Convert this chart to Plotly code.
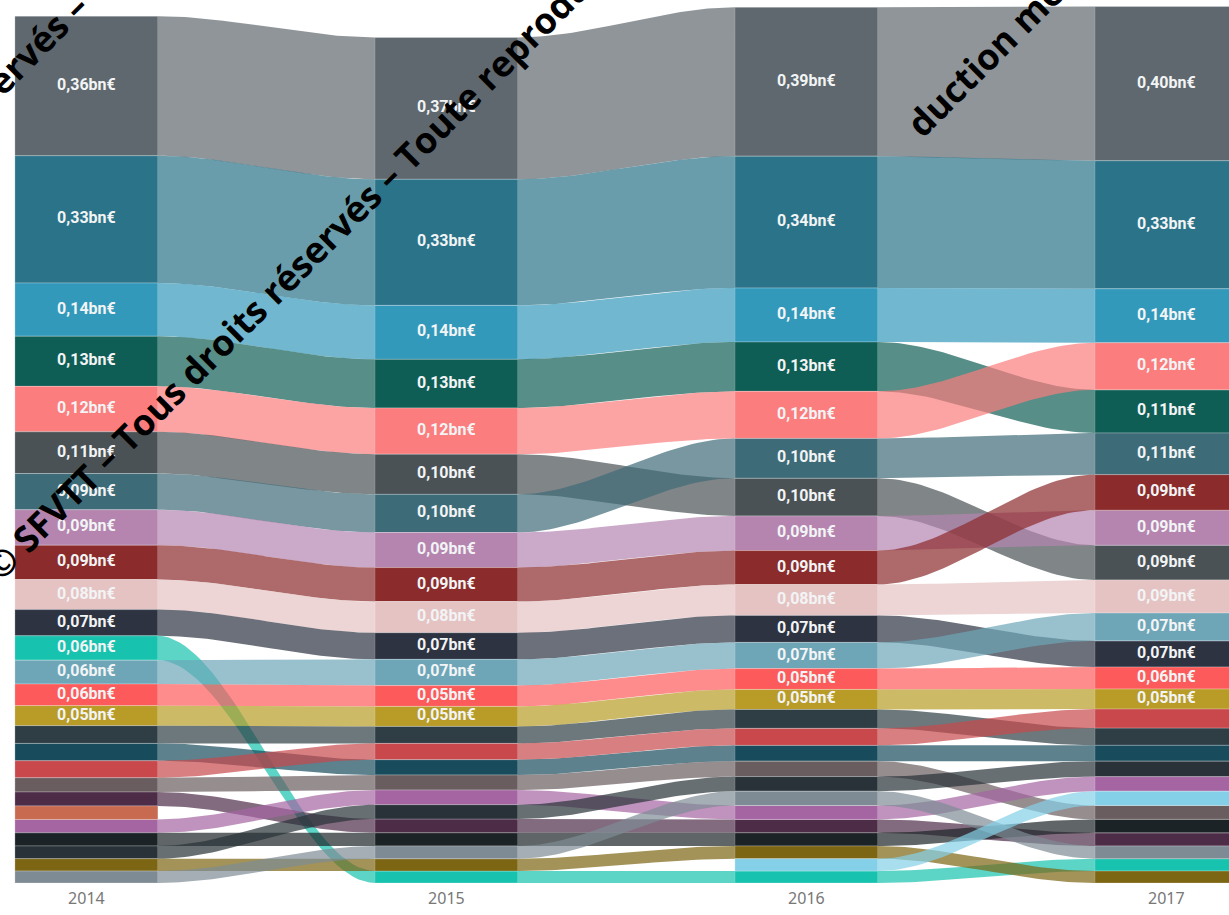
import numpy as np
import plotly.graph_objects as go

years = ['2014', '2015', '2016', '2017']
series = ['A', 'B', 'C', 'D', 'E', 'F', 'G', 'H', 'I', 'J', 'K', 'L', 'M', 'N',
          'O', 'P', 'Q', 'R', 'S', 'T', 'U', 'V', 'W', 'X', 'Y', 'Z', 'AA']
colors = ['#5f686e', '#2a7389', '#3399bb', '#0f5e55', '#fb7d7d', '#4a5255',
          '#3e6b78', '#b585b0', '#8b2b2b', '#e6c3c3', '#2e3342', '#17c2ae',
          '#6ea6b8', '#fd5b5b', '#b89c27', '#2f3e45', '#184c5d', '#c8484c',
          '#6a5d5f', '#4d2c48', '#a565a3', '#c86a50', '#1c2327', '#283238',
          '#7c6513', '#7e8b94', '#84d0e8']

# values in bn€, None = no value that year
v2014 = [.362, .330, .138, .130, .118, .108, .094, .092, .089, .078, .068, .063,
         .062, .056, .052, .046, .045, .044, .037, .036, .035, .035, .034, .033,
         .032, .031, None]
v2015 = [.368, .327, .140, .126, .120, .104, .099, .091, .088, .081, .069, .031,
         .068, .054, .052, .044, .040, .042, .039, .036, .038, None, .034, .037,
         .032, .033, None]
v2016 = [.386, .342, .140, .128, .122, .098, .103, .090, .088, .080, .070, .031,
         .068, .054, .052, .049, .041, .044, .040, .035, .036, None, .034, .038,
         .033, .037, .032]
v2017 = [.400, .332, .140, .112, .122, .090, .108, .091, .092, .086, .068, .032,
         .072, .057, .052, .045, .041, .049, .036, .034, .038, None, .035, .040,
         .031, .033, .037]

values = [v2014, v2015, v2016, v2017]
hw = 0.1986          # half bar width (x units, 1 = one year step)
label_min = 0.05


def rgba(hexc, a):
    h = hexc.lstrip('#')
    return 'rgba(%d,%d,%d,%s)' % (int(h[0:2], 16), int(h[2:4], 16), int(h[4:6], 16), a)


# stack each year, largest on top
bottoms = []
for vals in values:
    idx = [i for i in range(len(series)) if vals[i] is not None]
    idx.sort(key=lambda i: vals[i])   # smallest first -> at the bottom
    b = {}
    y = 0.0
    for i in idx:
        b[i] = y
        y += vals[i]
    bottoms.append(b)

fig = go.Figure()

# ribbons
t = np.linspace(0, 1, 41)
s = t * t * (3 - 2 * t)
for k in range(len(years) - 1):
    x = k + hw + (1 - 2 * hw) * t
    for i in range(len(series)):
        if i not in bottoms[k] or i not in bottoms[k + 1]:
            continue
        b0, b1 = bottoms[k][i], bottoms[k + 1][i]
        t0, t1 = b0 + values[k][i], b1 + values[k + 1][i]
        top = t0 + (t1 - t0) * s
        bot = b0 + (b1 - b0) * s
        fig.add_trace(go.Scatter(
            x=np.concatenate([x, x[::-1]]), y=np.concatenate([top, bot[::-1]]),
            fill='toself', fillcolor=rgba(colors[i], 0.7), mode='lines',
            line=dict(width=0), hoverinfo='skip', showlegend=False))

# columns
for i in range(len(series)):
    xs, ys, bs = [], [], []
    for k in range(len(years)):
        if i in bottoms[k]:
            xs.append(k)
            ys.append(values[k][i])
            bs.append(bottoms[k][i])
    fig.add_trace(go.Bar(
        x=xs, y=ys, base=bs, width=2 * hw, marker_color=colors[i],
        marker_line=dict(width=0.7, color='rgba(255,255,255,0.35)'),
        name=series[i], showlegend=False))

# data labels
lx, ly, lt = [], [], []
for k in range(len(years)):
    for i, b in bottoms[k].items():
        v = values[k][i]
        if v >= label_min:
            lx.append(k)
            ly.append(b + v / 2)
            lt.append(('%.2f' % v).replace('.', ',') + 'bn€')
fig.add_trace(go.Scatter(
    x=lx, y=ly, text=lt, mode='text', hoverinfo='skip', showlegend=False,
    textfont=dict(family='Roboto', size=16, color='#f2f4f5', weight='bold')))

# watermark (anchored at the start of each line)
wm = '© SFVTT – Tous droits réservés – Toute reproduction'
for x0, y0, txt in [(-0.2783, 0.5210, wm), (-0.0236, 0.3284, wm),
                    (0.7266, 0.8301, 'duction même partielle interdite')]:
    fig.add_annotation(x=x0, y=y0, xref='paper', yref='paper', text=txt,
                       xanchor='left', yanchor='bottom',
                       showarrow=False, textangle=-45,
                       font=dict(family='Open Sans', size=36, color='black', weight='bold'))

fig.update_layout(
    width=1229, height=915, barmode='overlay',
    margin=dict(l=0, r=0, t=0, b=32),
    plot_bgcolor='white', paper_bgcolor='white',
    xaxis=dict(range=[-0.240, 3.174], tickvals=list(range(len(years))), ticktext=years,
               showgrid=False, zeroline=False, showline=False, ticks='',
               ticklabelstandoff=4,
               tickfont=dict(family='Noto Sans', size=16, color='#777777')),
    yaxis=dict(range=[0, 2.29], visible=False),
)

fig.write_html('out.html', config={'displayModeBar': False},
               post_script="document.body.style.margin='0';")
